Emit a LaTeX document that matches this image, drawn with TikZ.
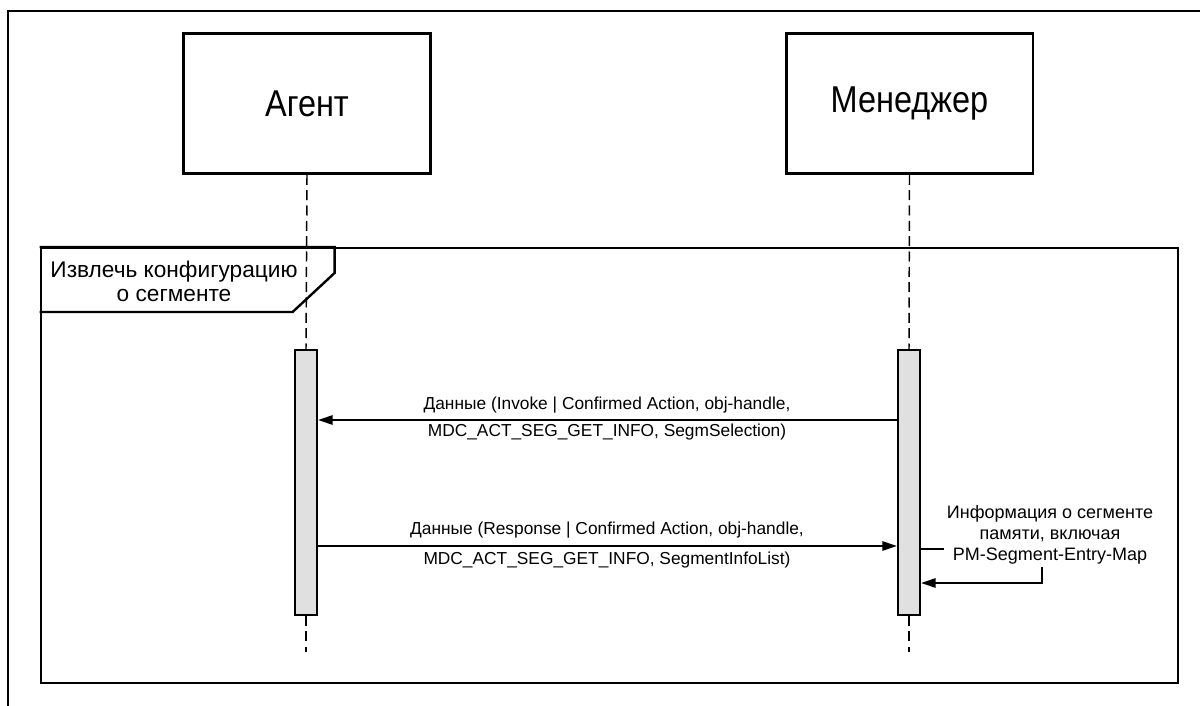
\documentclass[tikz,border=0pt]{standalone}
\usepackage{fontspec}
\setmainfont{Liberation Sans}
\newfontfamily\narrowsans{Liberation Sans}[FakeStretch=0.87]
\usepackage{tikz}
\usetikzlibrary{arrows.meta}
\usetikzlibrary{positioning}
\tikzset{actor/.style={draw,line width=2pt,minimum width=185pt,minimum height=105pt,inner sep=0pt,font=\narrowsans\fontsize{28}{32}\selectfont}}
\tikzset{lifebar/.style={draw,line width=1.6pt,fill=black!12,minimum width=16.5pt,minimum height=198.5pt,inner sep=0pt}}
\tikzset{lifeline/.style={line width=1.1pt,dash pattern=on 7.5pt off 4pt}}
\tikzset{msg/.style={line width=1.5pt,-{Triangle[length=11pt,width=7pt]}}}
\tikzset{msgtext/.style={font=\fontsize{13}{15}\selectfont,inner sep=1pt}}
\tikzset{frame/.style={draw,line width=1.8pt}}

\begin{document}
\begin{tikzpicture}[x=0.75pt,y=-0.75pt]
            \useasboundingbox (0,0) rectangle (1200,706);
            \draw[line width=2pt] (8,706) -- (8,11) -- (1200,11);
            % actors
            \node[actor] (agent) at (307,103.5) {Агент};
            \node[actor] (manager) at (909.5,103.5) {Менеджер};
            % fragment
            \node[frame,minimum width=853pt,minimum height=326pt,inner sep=0pt] (frag) at (609.5,465.5) {};
            \draw[frame] (frag.north west) -- ++(295,0) -- ++(0,26) -- ++(-42,39) -- (frag.west |- 0,312);
            \node[font=\fontsize{17}{17.5}\selectfont,align=center] (fraglabel) at (174,281.5) {Извлечь конфигурацию\\о сегменте};
            % lifelines
            \coordinate (agentend) at (306,652);
            \coordinate (managerend) at (909,652);
            \node[lifebar] (abar) at (306,482.5) {};
            \node[lifebar] (mbar) at (909,482.5) {};
            \draw[lifeline] (agent.south) -- (abar.north);
            \draw[lifeline] (abar.south) -- (agentend);
            \draw[lifeline] (manager.south) -- (mbar.north);
            \draw[lifeline] (mbar.south) -- (managerend);
            % messages
            \coordinate (inv) at (0,420);
            \coordinate (resp) at (0,546);
            \draw[msg] (mbar.west |- inv) -- (abar.east |- inv);
            \node[msgtext] (invtop) at (607,405) {Данные (Invoke | Confirmed Action, obj-handle,};
            \node[msgtext] (invbot) at (607,432) {MDC\_ACT\_SEG\_GET\_INFO, SegmSelection)};
            \draw[msg] (abar.east |- resp) -- (mbar.west |- resp);
            \node[msgtext] (resptop) at (607,530) {Данные (Response | Confirmed Action, obj-handle,};
            \node[msgtext] (respbot) at (607,560) {MDC\_ACT\_SEG\_GET\_INFO, SegmentInfoList)};
            % self message
            \coordinate (selfa) at (1042,549);
            \coordinate (selfb) at (1042,583);
            \draw[msg] (mbar.east |- selfa) -- (selfa) -- (selfb) -- (mbar.east |- selfb);
            \node[msgtext,fill=white,inner sep=2pt,align=center,font=\fontsize{13.5}{15.75}\selectfont] (note) at (1050,535) {Информация о сегменте\\памяти, включая\\PM-Segment-Entry-Map};
\end{tikzpicture}
\end{document}
